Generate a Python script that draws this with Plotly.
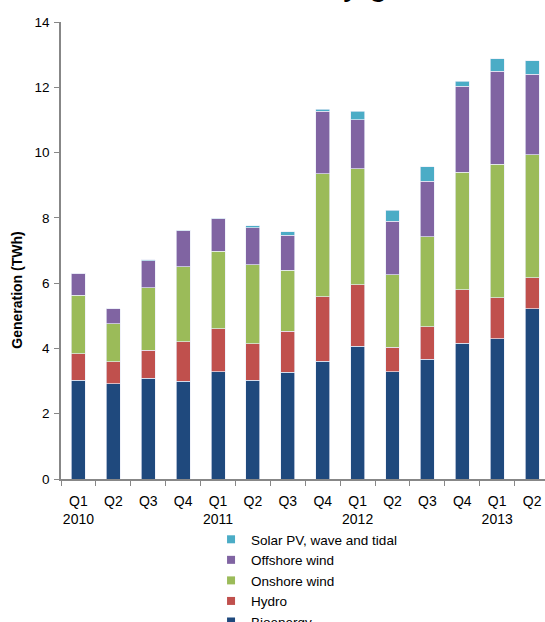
import plotly.graph_objects as go

# Quarterly renewable electricity generation (TWh), 2010 Q1 to 2013 Q2
quarters = ["Q1<br>2010", "Q2", "Q3", "Q4",
            "Q1<br>2011", "Q2", "Q3", "Q4",
            "Q1<br>2012", "Q2", "Q3", "Q4",
            "Q1<br>2013", "Q2"]

bioenergy = [3.02, 2.92, 3.08, 2.99, 3.29, 3.02, 3.27, 3.60, 4.07, 3.29, 3.67, 4.16, 4.29, 5.21]
hydro = [0.82, 0.67, 0.87, 1.22, 1.32, 1.13, 1.25, 1.99, 1.88, 0.74, 1.00, 1.64, 1.27, 0.96]
onshore_wind = [1.79, 1.16, 1.91, 2.29, 2.37, 2.42, 1.87, 3.76, 3.56, 2.23, 2.75, 3.60, 4.08, 3.77]
offshore_wind = [0.67, 0.46, 0.83, 1.11, 0.99, 1.12, 1.07, 1.92, 1.49, 1.63, 1.70, 2.63, 2.85, 2.46]
solar_wave_tidal = [0.01, 0.01, 0.02, 0.01, 0.02, 0.07, 0.12, 0.05, 0.27, 0.34, 0.44, 0.15, 0.38, 0.42]

y_ticks = [0, 2, 4, 6, 8, 10, 12, 14]

series = [
    ("Bioenergy", bioenergy, "#1F497D"),
    ("Hydro", hydro, "#C0504D"),
    ("Onshore wind", onshore_wind, "#9BBB59"),
    ("Offshore wind", offshore_wind, "#8064A2"),
    ("Solar PV, wave and tidal", solar_wave_tidal, "#4BACC6"),
]

FONT = "Arial, Liberation Sans, sans-serif"
idx = list(range(len(quarters)))

fig = go.Figure()
for name, vals, color in series:
    fig.add_trace(go.Bar(
        x=idx, y=vals, name=name, legendgroup=name, showlegend=False,
        width=0.4,
        marker=dict(color=color, line=dict(color="rgba(235,238,248,0.85)", width=0.8)),
    ))
    # compact square legend key
    fig.add_trace(go.Scatter(
        x=[None], y=[None], name=name, legendgroup=name, mode="markers",
        marker=dict(symbol="square", size=8, color=color),
    ))

fig.update_layout(
    width=545, height=622,
    margin=dict(l=61, r=0, t=22, b=143, autoexpand=False),
    barmode="stack",
    paper_bgcolor="white", plot_bgcolor="white",
    font=dict(family=FONT, size=14, color="#000000"),
    xaxis=dict(
        range=[-0.5, 13.37],
        tickmode="array", tickvals=idx, ticktext=quarters,
        ticks="", showgrid=False, zeroline=False,
        showline=True, linecolor="#878787", linewidth=1.5,
        tickfont=dict(size=14), ticklabelstandoff=8,
        minor=dict(tickmode="array", tickvals=[i - 0.5 for i in idx] + [13.5],
                   ticks="outside", ticklen=5, tickcolor="#878787", tickwidth=1.2),
    ),
    yaxis=dict(
        range=[0, 14], tickmode="array", tickvals=y_ticks,
        ticks="outside", ticklen=5, tickcolor="#878787", tickwidth=1.2,
        showgrid=False, zeroline=False,
        showline=True, linecolor="#878787", linewidth=1.5,
        tickfont=dict(size=13.5), ticklabelstandoff=2,
    ),
    legend=dict(
        traceorder="reversed", orientation="v",
        x=0.31, xanchor="left", y=-0.0985, yanchor="top",
        font=dict(size=13.5), itemwidth=30, tracegroupgap=0,
        bgcolor="rgba(0,0,0,0)",
    ),
    annotations=[
        dict(text="<b>Generation (TWh)</b>", textangle=-90,
             xref="paper", yref="paper", x=-0.091, y=0.414,
             xanchor="center", yanchor="middle", showarrow=False,
             font=dict(size=14)),
        dict(text="Renewable electricity generation",
             xref="paper", yref="paper", x=-0.031, y=1.0404,
             xanchor="left", yanchor="bottom", showarrow=False,
             font=dict(size=33)),
    ],
)

fig.write_html("out.html")
